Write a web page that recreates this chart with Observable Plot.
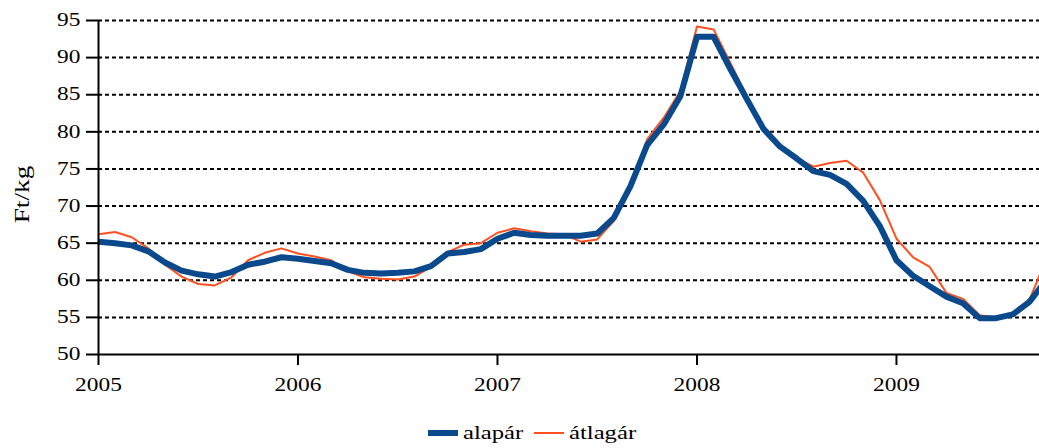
<!DOCTYPE html>
<html>
<head>
<meta charset="utf-8">
<script src="https://cdn.jsdelivr.net/npm/d3@7"></script>
<script src="https://cdn.jsdelivr.net/npm/@observablehq/plot@0.6"></script>
<style>
  html, body { margin: 0; padding: 0; background: #fff; }
  body { width: 1039px; height: 448px; overflow: hidden; font-family: "Liberation Serif", serif; }
  #chart svg { display: block; }
</style>
</head>
<body>
<div id="chart"></div>
<script>
// Monthly prices, January 2005 onward (Ft/kg)
const startYear = 2005;
const alapar = [
  65.2, 65.0, 64.7, 63.9, 62.4, 61.3, 60.8, 60.5, 61.1, 62.1, 62.5, 63.1,
  62.9, 62.6, 62.3, 61.4, 61.0, 60.9, 61.0, 61.2, 61.9, 63.6, 63.8, 64.2,
  65.6, 66.4, 66.1, 66.0, 66.0, 66.0, 66.3, 68.4, 72.7, 78.2, 81.0, 84.8,
  92.8, 92.8, 88.5, 84.4, 80.4, 78.0, 76.4, 74.7, 74.2, 73.0, 70.7, 67.3,
  62.7, 60.6, 59.2, 57.8, 56.9, 54.9, 54.9, 55.4, 57.1, 60.0
];
const atlagar = [
  66.2, 66.5, 65.8, 64.3, 62.1, 60.5, 59.5, 59.3, 60.4, 62.7, 63.7, 64.3,
  63.6, 63.2, 62.7, 61.2, 60.4, 60.2, 60.1, 60.5, 61.8, 63.8, 64.8, 65.0,
  66.4, 67.0, 66.6, 66.3, 66.2, 65.2, 65.5, 68.0, 72.5, 79.0, 81.9, 85.5,
  94.2, 93.8, 89.3, 84.8, 80.6, 78.0, 76.5, 75.3, 75.8, 76.1, 74.5, 70.8,
  65.6, 63.1, 61.8, 58.3, 57.5, 55.3, 55.0, 55.5, 57.4, 62.8
];
const seriesNames = ["alapár", "átlagár"];
const seriesColors = ["#0a4a8c", "#ff5020"];
const yTicks = [50, 55, 60, 65, 70, 75, 80, 85, 90, 95];
const gridTicks = [55, 60, 65, 70, 75, 80, 85, 90, 95];
const xTicks = [2005, 2006, 2007, 2008, 2009];
const yLabel = "Ft/kg";

const toRows = (arr, name) => arr.map((v, i) => ({t: startYear + i / 12, v, s: name}));
const rowsA = toRows(alapar, seriesNames[0]);
const rowsB = toRows(atlagar, seriesNames[1]);

const chart = Plot.plot({
  width: 1039,
  height: 400,
  marginLeft: 98,
  marginRight: 0,
  marginTop: 20,
  marginBottom: 46,
  style: {fontFamily: "'Liberation Serif', serif", fontSize: "18px", color: "#000", background: "#fff", overflow: "visible"},
  x: {type: "linear", domain: [2005, 2009.717]},
  y: {domain: [50, 95]},
  marks: [
    Plot.ruleY(gridTicks, {stroke: "#000", strokeWidth: 2, strokeDasharray: "4,3"}),
    Plot.line(rowsB, {x: "t", y: "v", stroke: seriesColors[1], strokeWidth: 2, clip: true}),
    Plot.line(rowsA, {x: "t", y: "v", stroke: seriesColors[0], strokeWidth: 6, clip: true}),
    Plot.ruleX([2005], {stroke: "#000", strokeWidth: 2}),
    Plot.ruleY([50], {stroke: "#000", strokeWidth: 2}),
    Plot.axisY({ticks: yTicks, tickSize: 12, tickPadding: 6, strokeWidth: 2, label: null, tickFormat: d => String(d)}),
    Plot.axisX({ticks: xTicks, tickSize: 11, tickPadding: 13, strokeWidth: 2, label: null, tickFormat: d => String(d)}),
    Plot.text([yLabel], {frameAnchor: "left", textAnchor: "middle", dx: -76, dy: 7, rotate: -90, text: d => d, fontSize: 21, fill: "#000"})
  ]
});
document.getElementById("chart").appendChild(chart);

// horizontally widen the serif text to match the reference lettering
d3.select(chart).selectAll("text").each(function() {
  const tr = this.getAttribute("transform");
  if (tr) this.setAttribute("transform", tr + " scale(1.3,1)");
});

// legend below the chart
const legend = d3.select("body").append("svg")
  .attr("width", 1039).attr("height", 48)
  .style("display", "block")
  .style("font-family", "'Liberation Serif', serif")
  .style("font-size", "19px");
const legendItems = [
  {name: seriesNames[0], color: seriesColors[0], w: 6, x0: 428, tx: 463},
  {name: seriesNames[1], color: seriesColors[1], w: 2, x0: 534, tx: 569}
];
legendItems.forEach(it => {
  legend.append("line").attr("x1", it.x0).attr("x2", it.x0 + 30)
    .attr("y1", 33).attr("y2", 33)
    .attr("stroke", it.color).attr("stroke-width", it.w);
  legend.append("text").attr("transform", `translate(${it.tx},39) scale(1.3,1)`)
    .attr("fill", "#000").text(it.name);
});
</script>
</body>
</html>
